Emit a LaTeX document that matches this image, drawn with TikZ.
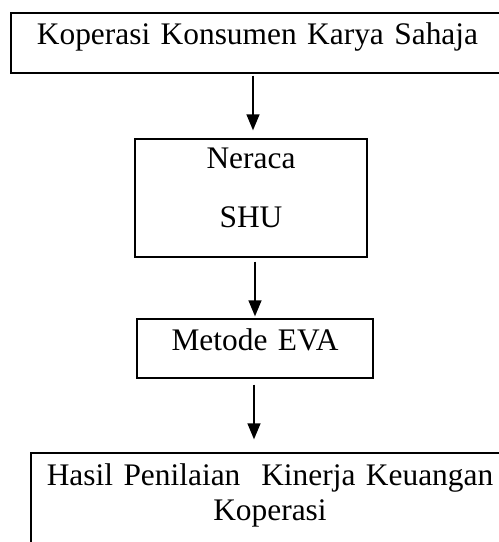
\documentclass[tikz,border=0pt]{standalone}
\usepackage{fontspec}
\setmainfont{Liberation Serif}
\usetikzlibrary{shapes,positioning,arrows.meta}

\begin{document}
\begin{tikzpicture}[->,>={Triangle[length=8pt,width=6.5pt]},line width=0.7pt,
    font=\fontsize{15.7}{17.5}\selectfont,
    box/.style={draw, inner sep=0pt, align=center}]

    \useasboundingbox (0,0) rectangle (249.5pt,-271pt);

    \node[box, text width=246.5pt, text height=15.5pt, text depth=14.5pt] (1) at (128.75pt,-21.5pt) {Koperasi Konsumen Karya Sahaja};
    \node[box, below of=1, node distance=77.5pt, xshift=-3.25pt, text width=116pt, text height=14.5pt, text depth=44.5pt] (2) {Neraca\\[12pt]SHU};
    \node[box, below of=2, node distance=75.25pt, xshift=2pt, text width=118pt, text height=15.5pt, text depth=14pt] (3) {Metode EVA};
    \node[box, below of=3, node distance=79pt, xshift=7.5pt, text width=239pt, text height=16pt, text depth=37.5pt] (4) {Hasil Penilaian\ \ Kinerja Keuangan\\Koperasi};

    %\node[below of=4, node distance=2cm] (ph) {};

    \coordinate (a1) at ([xshift=-2.25pt]1.south);
    \coordinate (a2) at ([xshift=2pt]2.south);
    \coordinate (a3) at ([xshift=-0.5pt]3.south);

    \path
    (a1) edge[shorten <=1pt, shorten >=4pt] (a1 |- 2.north)
    (a2) edge[shorten <=2pt, shorten >=1pt] (a2 |- 3.north)
    (a3) edge[shorten <=3pt, shorten >=6.5pt] (a3 |- 4.north);
\end{tikzpicture}
\end{document}
